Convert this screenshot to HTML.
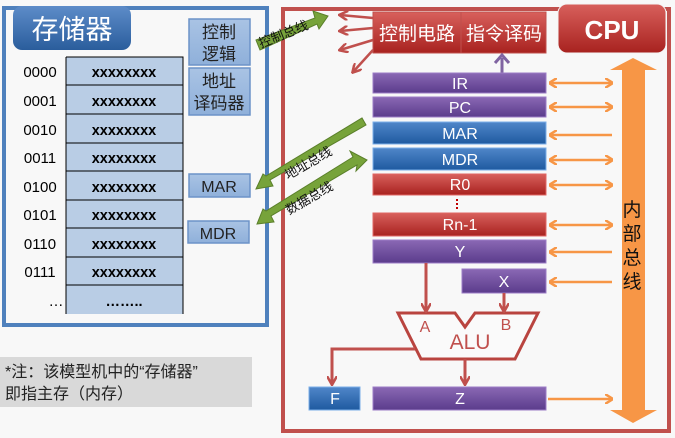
<!DOCTYPE html>
<html><head><meta charset="utf-8"><style>
body{margin:0;background:#f8f8f8;}
svg{display:block;font-family:"Liberation Sans","Noto Sans CJK SC",sans-serif;}
</style></head><body>
<svg width="675" height="438" viewBox="0 0 675 438" xmlns="http://www.w3.org/2000/svg">
<defs>
<linearGradient id="gb" x1="0" y1="0" x2="0" y2="1"><stop offset="0" stop-color="#5d8cc9"/><stop offset="1" stop-color="#2a5d9c"/></linearGradient>
<linearGradient id="gr" x1="0" y1="0" x2="0" y2="1"><stop offset="0" stop-color="#d8605c"/><stop offset="1" stop-color="#a8221f"/></linearGradient>
<linearGradient id="gp" x1="0" y1="0" x2="0" y2="1"><stop offset="0" stop-color="#8a68b4"/><stop offset="1" stop-color="#5b3c8c"/></linearGradient>
<linearGradient id="gbl" x1="0" y1="0" x2="0" y2="1"><stop offset="0" stop-color="#4f86c9"/><stop offset="1" stop-color="#1f5aa0"/></linearGradient>
<linearGradient id="gl" x1="0" y1="0" x2="0" y2="1"><stop offset="0" stop-color="#a9c3e4"/><stop offset="1" stop-color="#8fb0da"/></linearGradient>
<marker id="ao" markerWidth="8" markerHeight="10" refX="7" refY="5" orient="auto-start-reverse" markerUnits="userSpaceOnUse"><path d="M0,0 L8,5 L0,10" fill="none" stroke="#f79646" stroke-width="2.5"/></marker>
<marker id="ar" markerWidth="10" markerHeight="10" refX="8" refY="5" orient="auto" markerUnits="userSpaceOnUse"><path d="M0,0 L9,5 L0,10" fill="none" stroke="#c0504d" stroke-width="2.5"/></marker>
</defs>
<!-- memory -->
<rect x="4" y="8" width="263" height="317" fill="none" stroke="#4f81bd" stroke-width="4"/>
<rect x="13" y="6" width="118" height="44" rx="9" fill="url(#gb)"/>
<text x="72" y="39" font-size="27" fill="#fff" text-anchor="middle">存储器</text>
<g font-size="15" text-anchor="middle">
<rect x="66" y="57" width="117" height="257" fill="#b9cde5"/>
<g stroke="#000" stroke-width="1" fill="none">
<path d="M66,57H183V314M66,57V314M66,85H183M66,114H183M66,143H183M66,171H183M66,200H183M66,228H183M66,257H183M66,285H183"/>
</g>
<g fill="#000">
<text x="40" y="77">0000</text><text x="40" y="106">0001</text><text x="40" y="135">0010</text><text x="40" y="163">0011</text><text x="40" y="192">0100</text><text x="40" y="220">0101</text><text x="40" y="249">0110</text><text x="40" y="277">0111</text><text x="56" y="306">…</text>
<g font-weight="bold" font-size="14.5"><text x="124" y="77">xxxxxxxx</text><text x="124" y="106">xxxxxxxx</text><text x="124" y="135">xxxxxxxx</text><text x="124" y="163">xxxxxxxx</text><text x="124" y="192">xxxxxxxx</text><text x="124" y="220">xxxxxxxx</text><text x="124" y="249">xxxxxxxx</text><text x="124" y="277">xxxxxxxx</text><text x="124" y="306">……..</text></g>
</g>
</g>
<g stroke="#6c93c8" stroke-width="1.5" fill="url(#gl)">
<rect x="189" y="19" width="61" height="46"/><rect x="189" y="68" width="61" height="47"/>
<rect x="189" y="174" width="61" height="23"/><rect x="188" y="221" width="61" height="22"/>
</g>
<g font-size="17" fill="#222" text-anchor="middle">
<text x="219" y="38">控制</text><text x="219" y="60">逻辑</text>
<text x="219" y="87">地址</text><text x="219" y="109">译码器</text>
<text x="219" y="192" font-size="16">MAR</text><text x="218" y="239" font-size="16">MDR</text>
</g>
<!-- note -->
<rect x="0" y="357" width="252" height="50" fill="#d9d9d9"/>
<text x="5" y="377" font-size="16" fill="#222">*注：该模型机中的“存储器”</text>
<text x="5" y="399" font-size="16" fill="#222">即指主存（内存）</text>
<!-- CPU -->
<rect x="283" y="9" width="386" height="422" fill="none" stroke="#c0504d" stroke-width="4"/>
<rect x="558" y="4" width="108" height="49" rx="9" fill="url(#gr)" stroke="#f4f4f4" stroke-width="1"/>
<text x="612" y="39" font-size="26" font-weight="bold" fill="#fff" text-anchor="middle">CPU</text>
<rect x="373" y="12" width="88" height="41" fill="url(#gr)" stroke="#c0504d"/>
<rect x="461" y="12" width="85" height="41" fill="url(#gr)" stroke="#c0504d"/>
<text x="417" y="40" font-size="19" fill="#fff" text-anchor="middle">控制电路</text>
<text x="504" y="40" font-size="19" fill="#fff" text-anchor="middle">指令译码</text>
<!-- control arrows -->
<g stroke="#c0504d" stroke-width="2.5" fill="none">
<path d="M373,18 L340,15" marker-end="url(#ar)"/><path d="M373,28 L340,31" marker-end="url(#ar)"/>
<path d="M373,40 L340,50" marker-end="url(#ar)"/><path d="M373,50 L353,72" marker-end="url(#ar)"/>
</g>
<path d="M502,73 V58" stroke="#8064a2" stroke-width="3"/><path d="M495,63 L502,55 L509,63" fill="none" stroke="#8064a2" stroke-width="3"/>
<!-- registers -->
<g font-size="16" fill="#fff" text-anchor="middle">
<rect x="373" y="73" width="173" height="20" fill="url(#gp)" stroke="#9b7cc6"/><text x="460" y="89">IR</text>
<rect x="373" y="97" width="173" height="20" fill="url(#gp)" stroke="#9b7cc6"/><text x="460" y="113">PC</text>
<rect x="373" y="122" width="173" height="22" fill="url(#gbl)" stroke="#7aaee8"/><text x="460" y="139">MAR</text>
<rect x="373" y="148" width="173" height="22" fill="url(#gbl)" stroke="#7aaee8"/><text x="460" y="165">MDR</text>
<rect x="373" y="174" width="173" height="21" fill="url(#gr)" stroke="#e06663"/><text x="460" y="190">R0</text>
<rect x="373" y="213" width="173" height="23" fill="url(#gr)" stroke="#e06663"/><text x="460" y="230">Rn-1</text>
<rect x="373" y="240" width="173" height="23" fill="url(#gp)" stroke="#9b7cc6"/><text x="460" y="257">Y</text>
<rect x="462" y="269" width="84" height="24" fill="url(#gp)" stroke="#9b7cc6"/><text x="504" y="287">X</text>
<rect x="309" y="387" width="51" height="23" fill="url(#gbl)" stroke="#7aaee8"/><text x="335" y="404">F</text>
<rect x="373" y="387" width="173" height="23" fill="url(#gp)" stroke="#9b7cc6"/><text x="460" y="404">Z</text>
</g>
<path d="M457,199 V210" stroke="#c00000" stroke-width="2" stroke-dasharray="2,2"/>
<!-- bus -->
<path d="M622,70 H645 V410 H657 L633,423 L610,410 H622 Z M610,70 L633,58 L657,70 Z" fill="#f79646"/>
<g font-size="19" fill="#111" text-anchor="middle"><text x="632" y="216">内</text><text x="632" y="240">部</text><text x="632" y="264">总</text><text x="632" y="288">线</text></g>
<g stroke="#f79646" stroke-width="2.5" fill="none">
<path d="M550,83 H612" marker-start="url(#ao)" marker-end="url(#ao)"/>
<path d="M550,107 H612" marker-start="url(#ao)" marker-end="url(#ao)"/>
<path d="M550,135 H612" marker-start="url(#ao)"/>
<path d="M550,160 H612" marker-start="url(#ao)" marker-end="url(#ao)"/>
<path d="M550,185 H612" marker-start="url(#ao)" marker-end="url(#ao)"/>
<path d="M550,225 H612" marker-start="url(#ao)" marker-end="url(#ao)"/>
<path d="M550,252 H612" marker-start="url(#ao)"/>
<path d="M550,282 H612" marker-start="url(#ao)"/>
<path d="M548,399 H612" marker-end="url(#ao)"/>
</g>
<!-- ALU -->
<path d="M398,313 H455 L465,327 L475,313 H538 L515,359 H421 Z" fill="#fafafa" stroke="#b9443f" stroke-width="3" stroke-linejoin="miter"/>
<g fill="#c0504d" font-size="16" text-anchor="middle"><text x="425" y="332">A</text><text x="506" y="330">B</text><text x="470" y="349" font-size="21">ALU</text></g>
<g stroke="#c0504d" stroke-width="3" fill="none">
<path d="M426,263 V311" marker-end="url(#ar)"/>
<path d="M504,293 V311" marker-end="url(#ar)"/>
<path d="M465,359 V384" marker-end="url(#ar)"/>
<path d="M415,349 H332 V384" marker-end="url(#ar)"/>
</g>
<!-- green buses -->
<g fill="#77a33a" stroke="#5a7f2a" stroke-width="1">
<path d="M256,40 L315,18 L313,11 L328,16 L319,29 L317,24 L260,50 Z"/>
<path d="M366,125 L270,180 L273,186 L256,189 L263,174 L266,176 L362,118 Z"/>
<path d="M353,157 L350,151 L367,160 L356,171 L357,165 L271,216 L274,222 L257,224 L263,209 L266,211 Z"/>
</g>
<g font-size="13" fill="#111">
<text transform="translate(261,48) rotate(-22)">控制总线</text>
<text transform="translate(288,180) rotate(-30)">地址总线</text>
<text transform="translate(289,215) rotate(-30)">数据总线</text>
</g>
</svg>
</body></html>
